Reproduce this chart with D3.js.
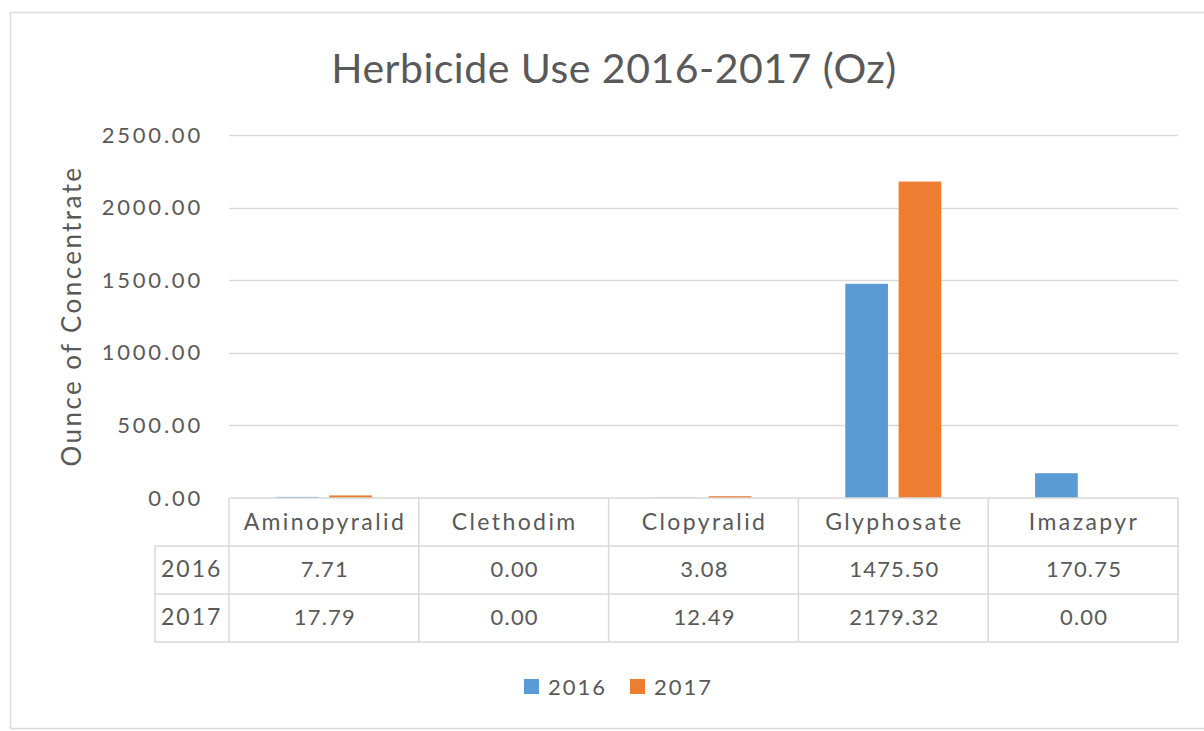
<!DOCTYPE html>
<html>
<head>
<meta charset="utf-8">
<script src="https://cdn.jsdelivr.net/npm/d3@7"></script>
<style>
  html, body { margin: 0; padding: 0; background: #fff; }
  svg { display: block; }
  text { font-family: Lato, "Open Sans", sans-serif; fill: #595959; }
</style>
</head>
<body>
<svg id="chart" width="1204" height="731"></svg>
<script>
const categories = ["Aminopyralid", "Clethodim", "Clopyralid", "Glyphosate", "Imazapyr"];
const seriesNames = ["2016", "2017"];
const values2016 = [7.71, 0.00, 3.08, 1475.50, 170.75];
const values2017 = [17.79, 0.00, 12.49, 2179.32, 0.00];
const yTicks = [0, 500, 1000, 1500, 2000, 2500];
const colors = ["#5B9BD5", "#ED7D31"];
const title = "Herbicide Use 2016-2017 (Oz)";
const yTitle = "Ounce of Concentrate";

(function () {
const series = [values2016, values2017];
const svg = d3.select("#chart");

// outer frame
svg.append("rect").attr("x", 10.5).attr("y", 12.5).attr("width", 1200).attr("height", 716)
  .attr("fill", "#fff").attr("stroke", "#D9D9D9").attr("stroke-width", 1.5);

const pLeft = 229, pRight = 1178, pTop = 135, pBottom = 498;
const x = d3.scaleBand().domain(categories).range([pLeft, pRight]);
const y = d3.scaleLinear().domain([0, 2500]).range([pBottom, pTop]);
const x1 = d3.scaleBand().domain(seriesNames).range([0, 96]).paddingInner(0.2);

// gridlines
svg.append("g").selectAll("line").data(yTicks.filter(d => d > 0)).join("line")
  .attr("x1", pLeft).attr("x2", pRight)
  .attr("y1", d => Math.round(y(d)) + 0.5).attr("y2", d => Math.round(y(d)) + 0.5)
  .attr("stroke", "#D9D9D9").attr("stroke-width", 1.5);

// y axis labels
const yAxis = d3.axisLeft(y).tickValues(yTicks).tickFormat(d3.format(".2f")).tickSize(0).tickPadding(0);
const ya = svg.append("g").attr("transform", `translate(203,0)`).call(yAxis);
ya.select(".domain").remove();
ya.selectAll("text").attr("font-size", 22).attr("letter-spacing", 2.8)
  .style("font-family", "Lato, sans-serif").attr("fill", "#595959");

// bars
const groups = svg.append("g").selectAll("g").data(categories).join("g")
  .attr("transform", d => `translate(${x(d) + x.bandwidth() / 2 - 48},0)`);
groups.selectAll("rect").data((c, i) => seriesNames.map((s, j) => ({ s, j, v: series[j][i] })))
  .join("rect")
  .attr("x", d => x1(d.s)).attr("width", x1.bandwidth())
  .attr("y", d => y(d.v)).attr("height", d => pBottom - y(d.v))
  .attr("fill", d => colors[d.j]);

// data table
const rowH = 48;
const tableLine = "#D9D9D9";
const tg = svg.append("g");
const rowTops = [pBottom, pBottom + rowH, pBottom + 2 * rowH, pBottom + 3 * rowH];
tg.append("line").attr("x1", pLeft).attr("x2", pRight).attr("y1", pBottom).attr("y2", pBottom)
  .attr("stroke", tableLine).attr("stroke-width", 1.5);
[1, 2, 3].forEach(k => {
  tg.append("line").attr("x1", 155).attr("x2", pRight)
    .attr("y1", rowTops[k]).attr("y2", rowTops[k])
    .attr("stroke", tableLine).attr("stroke-width", 1.5);
});
categories.concat(["__end"]).forEach((c, i) => {
  const xx = i < categories.length ? x(c) : pRight;
  tg.append("line").attr("x1", xx).attr("x2", xx).attr("y1", pBottom).attr("y2", rowTops[3])
    .attr("stroke", tableLine).attr("stroke-width", 1.5);
});
tg.append("line").attr("x1", 155).attr("x2", 155).attr("y1", rowTops[1]).attr("y2", rowTops[3])
  .attr("stroke", tableLine).attr("stroke-width", 1.5);

tg.selectAll("text.hdr").data(categories).join("text").attr("class", "hdr")
  .attr("x", d => x(d) + x.bandwidth() / 2 + 1).attr("y", pBottom + rowH / 2)
  .attr("dy", "0.35em").attr("text-anchor", "middle")
  .attr("font-size", 23).attr("letter-spacing", 2.4).text(d => d);
seriesNames.forEach((s, j) => {
  const cy = rowTops[j + 1] + rowH / 2 - 1;
  tg.append("text").attr("x", 161).attr("y", cy).attr("dy", "0.35em")
    .attr("font-size", 23).attr("letter-spacing", 2).text(s);
  tg.selectAll(null).data(categories).join("text")
    .attr("x", d => x(d) + x.bandwidth() / 2 + 1).attr("y", cy).attr("dy", "0.35em")
    .attr("text-anchor", "middle").attr("font-size", 22).attr("letter-spacing", 1.2)
    .text((d, i) => d3.format(".2f")(series[j][i]));
});

// title
svg.append("text").attr("x", 614).attr("y", 83).attr("text-anchor", "middle")
  .attr("font-size", 41).attr("letter-spacing", 0.5).text(title);

// y title
svg.append("text").attr("transform", "translate(81,316) rotate(-90)")
  .attr("text-anchor", "middle").attr("font-size", 26).attr("letter-spacing", 2.4).text(yTitle);

// legend
const lg = svg.append("g").attr("transform", "translate(524,687)");
const legendItems = lg.selectAll("g").data(seriesNames).join("g")
  .attr("transform", (d, i) => `translate(${i * 106},0)`);
legendItems.append("rect").attr("x", 0).attr("y", -8).attr("width", 15).attr("height", 15)
  .attr("fill", (d, i) => colors[i]);
legendItems.append("text").attr("x", 24).attr("y", 0).attr("dy", "0.35em")
  .attr("font-size", 22).attr("letter-spacing", 2).text(d => d);
})();
</script>
</body>
</html>
